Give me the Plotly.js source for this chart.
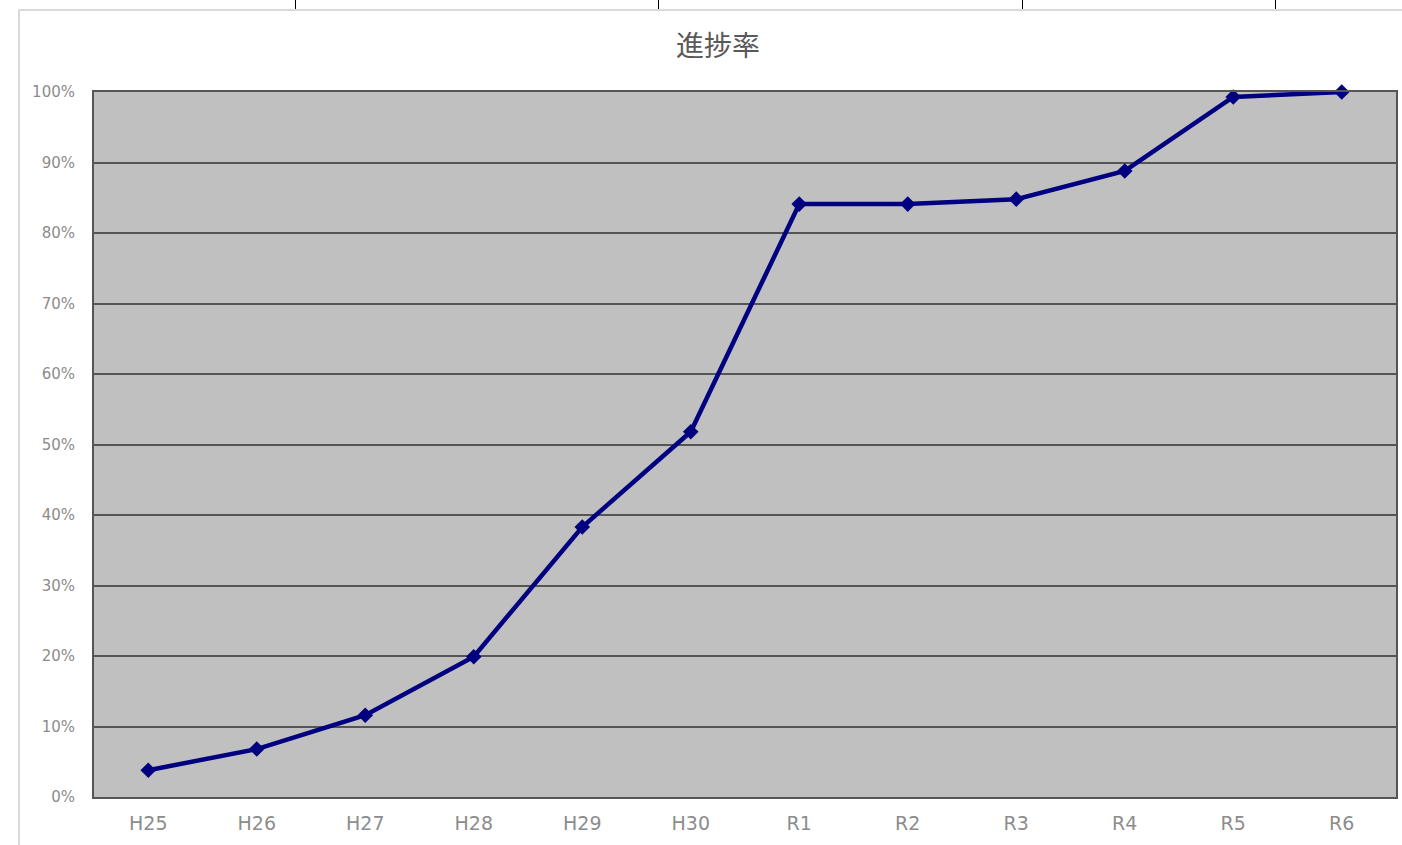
<!DOCTYPE html>
<html>
<head>
<meta charset="utf-8">
<script src="https://cdn.plot.ly/plotly-3.0.1.min.js"></script>
<style>
  html, body { margin: 0; padding: 0; background: #ffffff; width: 1402px; height: 845px; overflow: hidden; position: relative; }
  #frame { position: absolute; left: 18px; top: 9px; width: 1400px; height: 850px; border-left: 2px solid #d9d9d9; border-top: 2px solid #d9d9d9; box-sizing: border-box; }
  #chart { position: absolute; left: 18px; top: 9px; width: 1400px; height: 836px; }
  .tick { position: absolute; top: 0; width: 1px; height: 9px; background: #000; }
</style>
</head>
<body>
<div class="tick" style="left:295px"></div>
<div class="tick" style="left:658px"></div>
<div class="tick" style="left:1022px"></div>
<div class="tick" style="left:1275px"></div>
<div id="frame"></div>
<div id="chart"></div>
<script>
// Fiscal years and cumulative progress rate
const years = ['H25', 'H26', 'H27', 'H28', 'H29', 'H30', 'R1', 'R2', 'R3', 'R4', 'R5', 'R6'];
const progress = [0.038, 0.068, 0.116, 0.199, 0.383, 0.518, 0.841, 0.841, 0.848, 0.888, 0.993, 1.0];
const yTickValues = [0, 0.1, 0.2, 0.3, 0.4, 0.5, 0.6, 0.7, 0.8, 0.9, 1.0];
const yTickLabels = ['0%', '10%', '20%', '30%', '40%', '50%', '60%', '70%', '80%', '90%', '100%'];

const trace = {
  type: 'scatter',
  mode: 'lines+markers',
  x: years,
  y: progress,
  line: { color: '#000080', width: 4.5 },
  marker: { symbol: 'diamond', size: 12, color: '#000080' },
  cliponaxis: false,
  hoverinfo: 'x+y'
};

const layout = {
  width: 1400,
  height: 836,
  margin: { l: 76, r: 22, t: 83, b: 48 },
  paper_bgcolor: 'rgba(0,0,0,0)',
  plot_bgcolor: '#c0c0c0',
  showlegend: false,
  font: { family: '"DejaVu Sans", sans-serif', color: '#8c8c8c' },
  title: {
    text: '進捗率',
    xref: 'container', x: 0.5, xanchor: 'center',
    yref: 'container', y: 1 - 37 / 836, yanchor: 'middle',
    font: { size: 28, color: '#595959', family: '"Noto Sans CJK JP", sans-serif' }
  },
  xaxis: {
    type: 'category',
    range: [-0.5, years.length - 0.5],
    tickvals: years,
    ticktext: years,
    showgrid: false,
    zeroline: false,
    showline: true,
    mirror: true,
    linecolor: '#555555',
    linewidth: 2,
    ticks: '',
    ticklabelstandoff: 8,
    tickfont: { size: 19, color: '#8c8c8c', family: '"DejaVu Sans", sans-serif' },
    fixedrange: true
  },
  yaxis: {
    range: [0, 1],
    tickvals: yTickValues,
    ticktext: yTickLabels,
    showgrid: true,
    gridcolor: '#555555',
    gridwidth: 2,
    zeroline: false,
    showline: true,
    mirror: true,
    linecolor: '#555555',
    linewidth: 2,
    ticks: '',
    ticklabelstandoff: 14,
    tickfont: { size: 15, color: '#8c8c8c', family: '"DejaVu Sans", sans-serif' },
    fixedrange: true
  }
};

Plotly.newPlot('chart', [trace], layout, { displayModeBar: false, staticPlot: true });
</script>
</body>
</html>
